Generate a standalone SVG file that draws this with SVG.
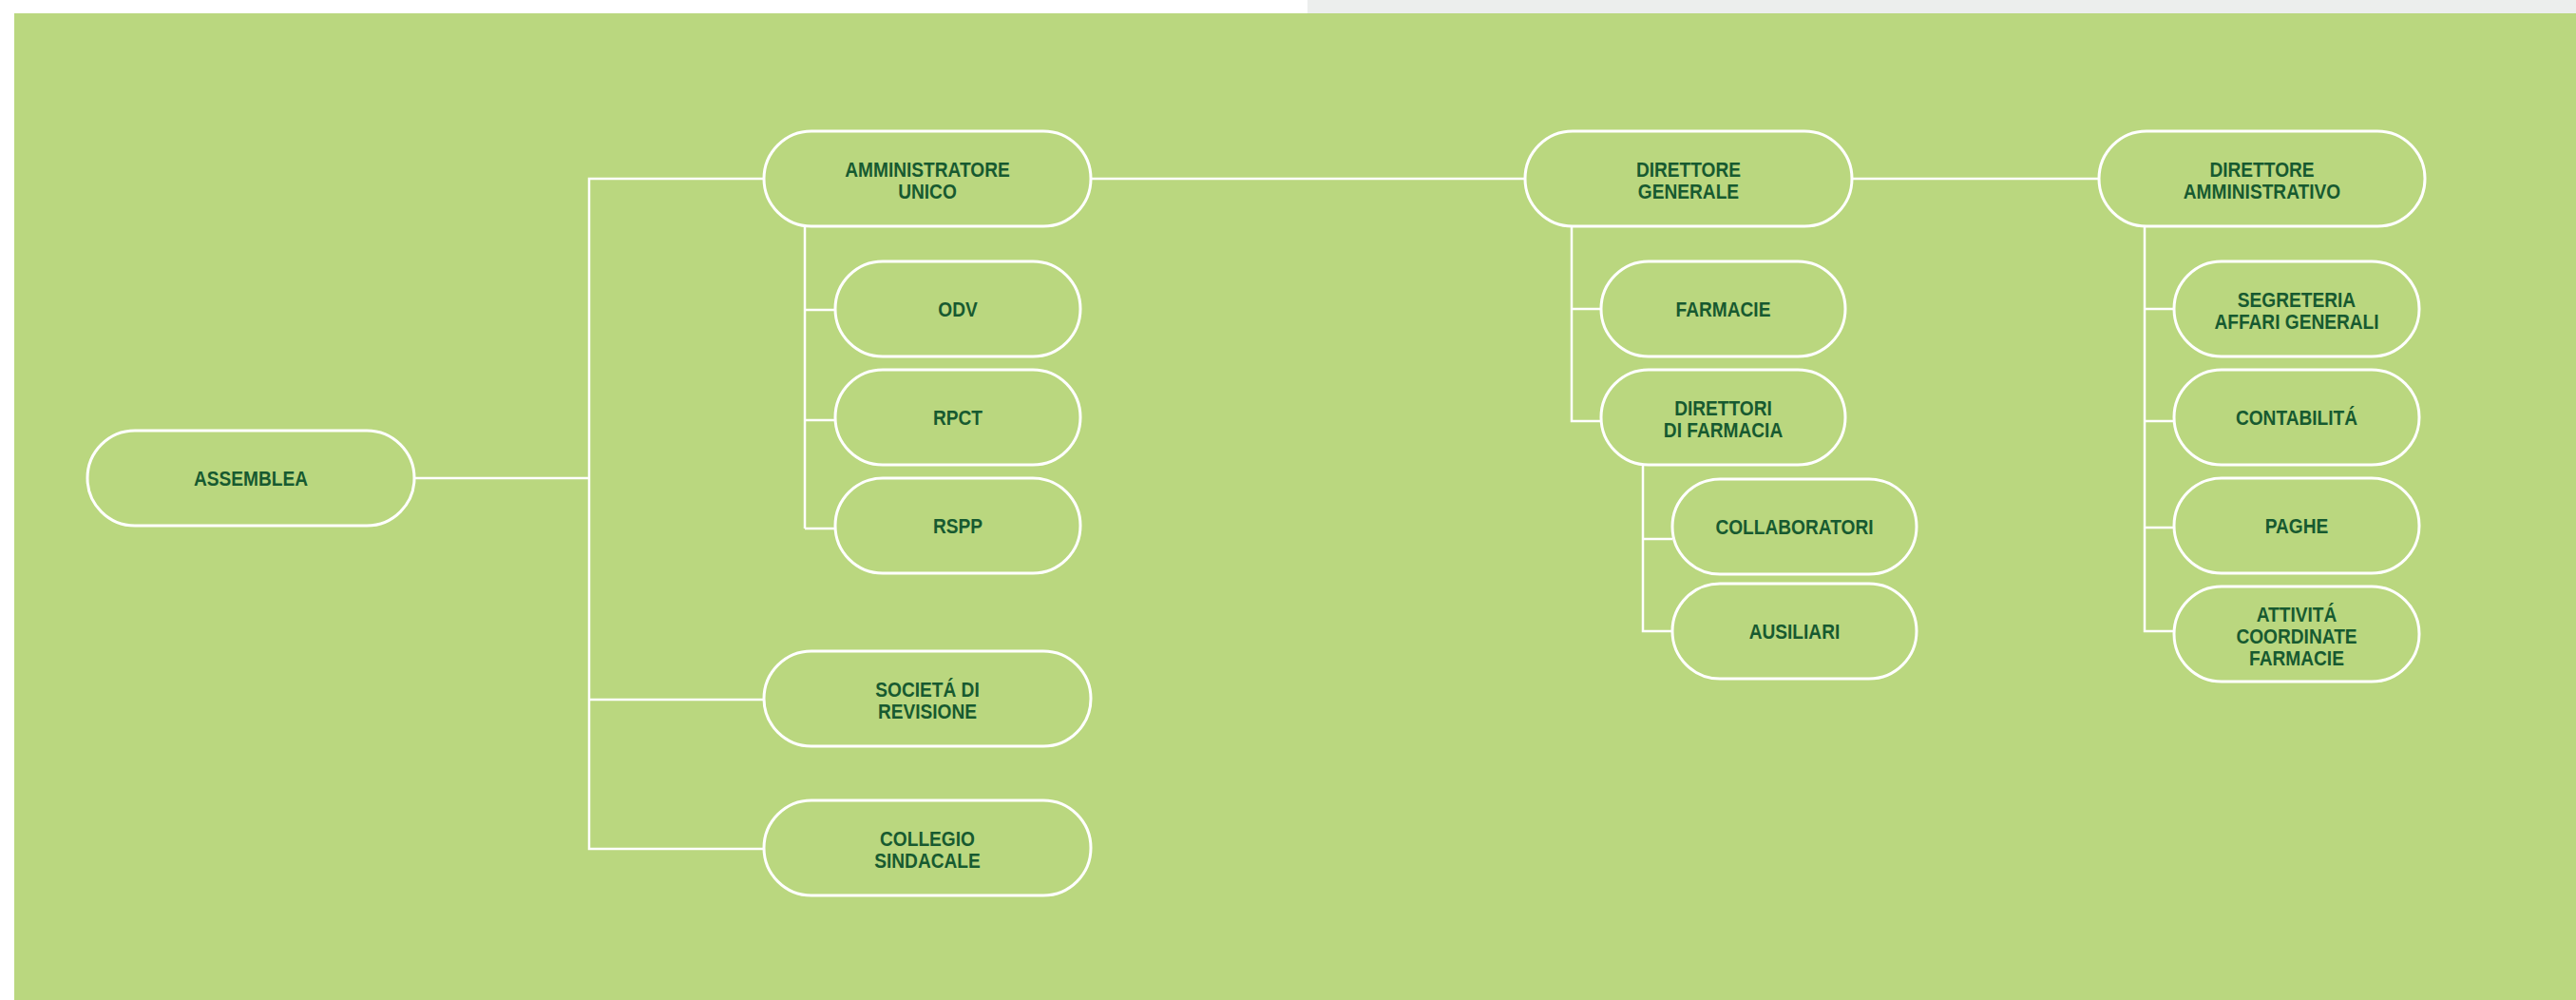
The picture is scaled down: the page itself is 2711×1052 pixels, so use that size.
<svg xmlns="http://www.w3.org/2000/svg" width="2711" height="1052" viewBox="0 0 2711 1052">
<style>
.bg{fill:#bad77f}
.node rect{fill:#bad77f;stroke:#ffffff;stroke-width:3}
.node text{font-family:"Liberation Sans",Arial,sans-serif;font-weight:bold;font-size:21.5px;fill:#175a30;text-anchor:middle;transform-box:fill-box;transform-origin:center;transform:scaleX(0.89)}
#connectors path{fill:none;stroke:#ffffff;stroke-width:2.5}
</style>
<rect x="0" y="0" width="2711" height="1052" fill="#ffffff"/>
<rect x="1376" y="0" width="1335" height="14" fill="#eceeed"/>
<rect class="bg" x="15" y="14" width="2696" height="1038"/>
<g id="connectors">
<path d="M804,188 H620 V893 H804 M436,503 H620 M620,736 H804"/>
<path d="M847,238 V556 M847,326 H879 M847,442 H879 M847,556 H879"/>
<path d="M1148,188 H1605"/>
<path d="M1654,238 V443 H1685 M1654,325 H1685"/>
<path d="M1729,489 V664 H1760 M1729,567 H1760"/>
<path d="M1949,188 H2209"/>
<path d="M2257,238 V664 H2288 M2257,325 H2288 M2257,443 H2288 M2257,555 H2288"/>
</g>
<g id="assemblea" class="node"><rect x="92" y="453" width="344" height="100" rx="50"/><text x="264" y="511">ASSEMBLEA</text></g>
<g id="amministratore-unico" class="node"><rect x="804" y="138" width="344" height="100" rx="50"/><text x="976" y="186">AMMINISTRATORE</text><text x="976" y="209">UNICO</text></g>
<g id="odv" class="node"><rect x="879" y="275" width="258" height="100" rx="50"/><text x="1008" y="333">ODV</text></g>
<g id="rpct" class="node"><rect x="879" y="389" width="258" height="100" rx="50"/><text x="1008" y="447">RPCT</text></g>
<g id="rspp" class="node"><rect x="879" y="503" width="258" height="100" rx="50"/><text x="1008" y="561">RSPP</text></g>
<g id="societa-revisione" class="node"><rect x="804" y="685" width="344" height="100" rx="50"/><text x="976" y="733">SOCIETÁ DI</text><text x="976" y="756">REVISIONE</text></g>
<g id="collegio-sindacale" class="node"><rect x="804" y="842" width="344" height="100" rx="50"/><text x="976" y="890">COLLEGIO</text><text x="976" y="913">SINDACALE</text></g>
<g id="direttore-generale" class="node"><rect x="1605" y="138" width="344" height="100" rx="50"/><text x="1777" y="186">DIRETTORE</text><text x="1777" y="209">GENERALE</text></g>
<g id="farmacie" class="node"><rect x="1685" y="275" width="257" height="100" rx="50"/><text x="1813.5" y="333">FARMACIE</text></g>
<g id="direttori-farmacia" class="node"><rect x="1685" y="389" width="257" height="100" rx="50"/><text x="1813.5" y="437">DIRETTORI</text><text x="1813.5" y="460">DI FARMACIA</text></g>
<g id="collaboratori" class="node"><rect x="1760" y="504" width="257" height="100" rx="50"/><text x="1888.5" y="562">COLLABORATORI</text></g>
<g id="ausiliari" class="node"><rect x="1760" y="614" width="257" height="100" rx="50"/><text x="1888.5" y="672">AUSILIARI</text></g>
<g id="direttore-amministrativo" class="node"><rect x="2209" y="138" width="343" height="100" rx="50"/><text x="2380.5" y="186">DIRETTORE</text><text x="2380.5" y="209">AMMINISTRATIVO</text></g>
<g id="segreteria" class="node"><rect x="2288" y="275" width="258" height="100" rx="50"/><text x="2417" y="323">SEGRETERIA</text><text x="2417" y="346">AFFARI GENERALI</text></g>
<g id="contabilita" class="node"><rect x="2288" y="389" width="258" height="100" rx="50"/><text x="2417" y="447">CONTABILITÁ</text></g>
<g id="paghe" class="node"><rect x="2288" y="503" width="258" height="100" rx="50"/><text x="2417" y="561">PAGHE</text></g>
<g id="attivita" class="node"><rect x="2288" y="617" width="258" height="100" rx="50"/><text x="2417" y="654">ATTIVITÁ</text><text x="2417" y="677">COORDINATE</text><text x="2417" y="700">FARMACIE</text></g>
</svg>
